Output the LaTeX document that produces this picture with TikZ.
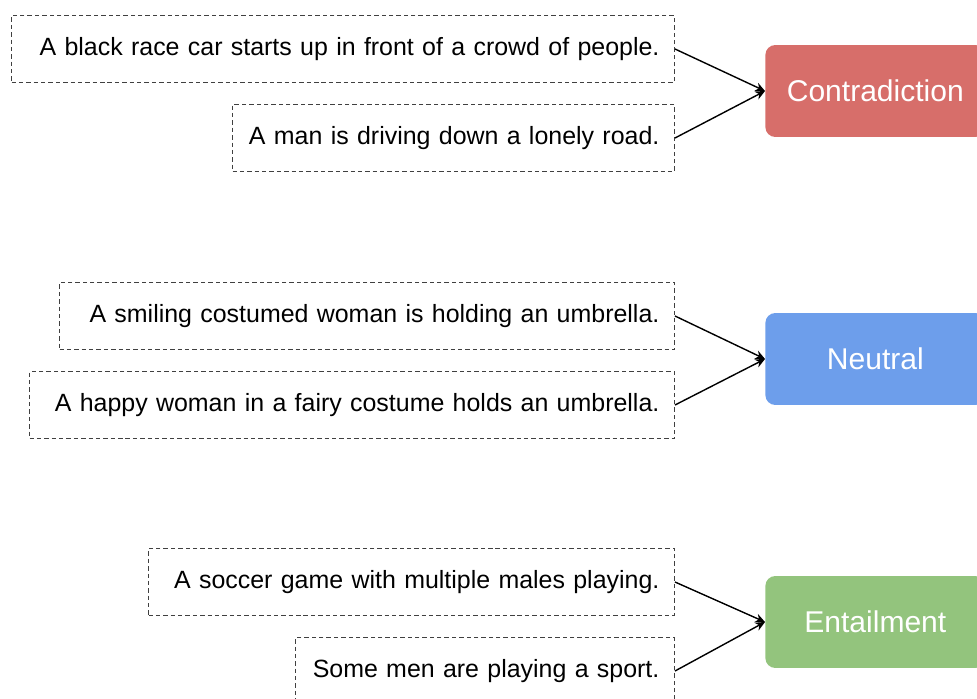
\documentclass[tikz,border=0pt]{standalone}
\usepackage{fontspec}
\setmainfont{Liberation Sans}
\usetikzlibrary{arrows.meta}
\definecolor{contracol}{HTML}{D76E6A}
\definecolor{neutcol}{HTML}{6D9EEB}
\definecolor{entailcol}{HTML}{93C47D}
\tikzset{
  sentbox/.style={draw=black!75, dash pattern=on 2.5pt off 1.7pt, line width=0.65pt,
    minimum height=1.34cm, inner xsep=0.3cm, text width=#1, align=right,
    anchor=east, font=\fontsize{14.2pt}{17pt}\selectfont},
  labelbox/.style={fill=#1, rounded corners=0.2cm, minimum width=4.4cm,
    minimum height=1.84cm, anchor=west, text=white,
    font=\fontsize{17.1pt}{20pt}\selectfont},
  pairarrow/.style={line width=0.8pt, -{Stealth[length=5.5pt,width=5pt]}}
}

\begin{document}
\begin{tikzpicture}[x=0.02cm, y=-0.02cm]
    \useasboundingbox (0,0) rectangle (977,699);

    % Contradiction
    \node[sentbox=12.66cm] (P1) at (675,49) {A black race car starts up in front of a crowd of people.};
    \node[sentbox=8.24cm] (H1) at (675,138) {A man is driving down a lonely road.};
    \node[labelbox=contracol] (L1) at (765,91) {Contradiction};
    \draw[pairarrow] (P1.east) -- (L1.west);
    \draw[pairarrow] (H1.east) -- (L1.west);

    % Neutral
    \node[sentbox=11.7cm] (P2) at (675,316) {A smiling costumed woman is holding an umbrella.};
    \node[sentbox=12.3cm] (H2) at (675,405) {A happy woman in a fairy costume holds an umbrella.};
    \node[labelbox=neutcol] (L2) at (765,359) {Neutral};
    \draw[pairarrow] (P2.east) -- (L2.west);
    \draw[pairarrow] (H2.east) -- (L2.west);

    % Entailment
    \node[sentbox=9.92cm] (P3) at (675,582) {A soccer game with multiple males playing.};
    \node[sentbox=6.98cm] (H3) at (675,671) {Some men are playing a sport.};
    \node[labelbox=entailcol] (L3) at (765,622) {Entailment};
    \draw[pairarrow] (P3.east) -- (L3.west);
    \draw[pairarrow] (H3.east) -- (L3.west);
\end{tikzpicture}
\end{document}
